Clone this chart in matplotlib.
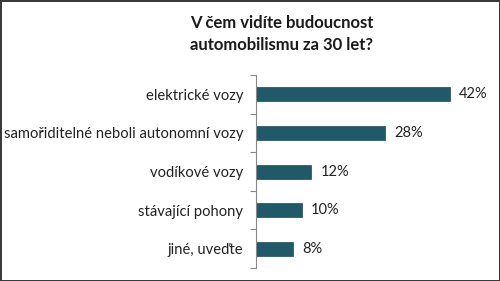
import matplotlib.pyplot as plt
import numpy as np

categories = ["elektrické vozy", "samořiditelné neboli autonomní vozy", "vodíkové vozy",
              "stávající pohony", "jiné, uveďte"]
values = [42, 28, 12, 10, 8]
title = "V čem vidíte budoucnost\nautomobilismu za 30 let?"

plt.rcParams['font.family'] = ['Lato', 'DejaVu Sans']

fig = plt.figure(figsize=(5, 2.81), dpi=100)
fig.patch.set_edgecolor("#3a3a3a")
fig.patch.set_linewidth(2)
ax = fig.add_axes([0.512, 0.046, 0.468, 0.687])

y = np.arange(len(categories))
ax.barh(y, values, height=0.36, color="#215968", edgecolor="#1a4a56", linewidth=0.5)
for yi, v in zip(y, values):
    ax.text(v + 1.9, yi, str(v) + "%", va="center", ha="left", fontsize=10.5, color="#222222")

ax.set_ylim(len(categories) - 0.5, -0.5)
ax.set_xlim(0, 50.6)
ax.set_yticks(y)
ax.set_yticklabels(categories, fontsize=10.6, color="#222222")
ax.set_yticks(np.arange(-0.5, len(categories), 1), minor=True)
ax.tick_params(axis="y", which="major", length=0, pad=9)
ax.tick_params(axis="y", which="minor", length=4, color="#888888", width=0.8)
ax.set_xticks([])
for s in ["top", "right", "bottom"]:
    ax.spines[s].set_visible(False)
ax.spines["left"].set_color("#888888")
ax.spines["left"].set_linewidth(0.8)

fig.text(0.564, 0.945, title, ha="center", va="top", fontsize=12, fontweight="bold",
         color="#1a1a1a", linespacing=1.4)

fig.savefig("out.png", dpi=100)
